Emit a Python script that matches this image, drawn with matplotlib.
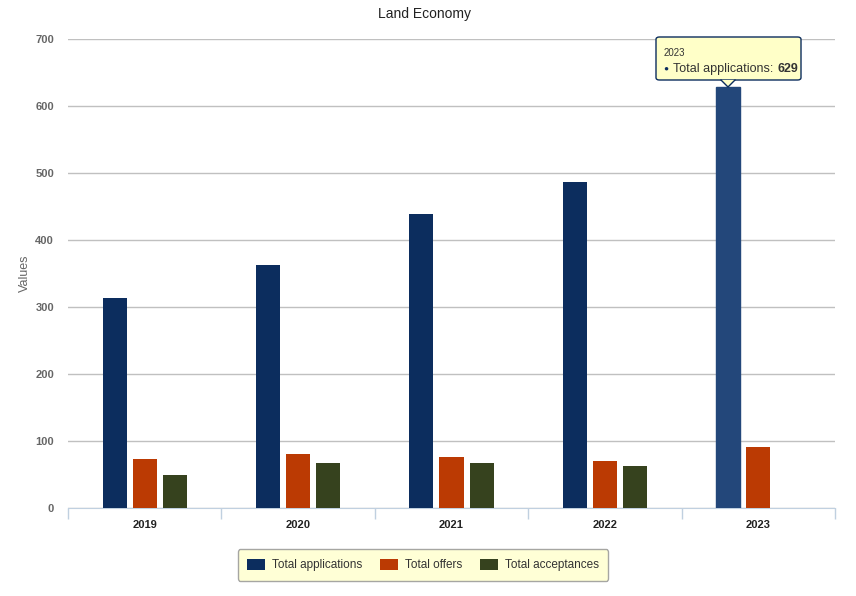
import matplotlib
matplotlib.use("Agg")
import matplotlib.pyplot as plt
import numpy as np
from matplotlib.patches import FancyBboxPatch, Polygon

plt.rcParams['font.family'] = ['Liberation Sans', 'DejaVu Sans']

years = ['2019', '2020', '2021', '2022', '2023']
series_names = ['Total applications', 'Total offers', 'Total acceptances']
applications = [313, 363, 439, 486, 629]
offers = [73, 81, 76, 70, 91]
acceptances = [49, 67, 67, 63, 0]
colors = ['#0c2d5e', '#bb3a03', '#36421e']
highlight = '#23477a'

fig = plt.figure(figsize=(8.56, 5.96), dpi=100)
ax = fig.add_axes([68/856, 88/596, (835-68)/856, (508-39)/596])

x = np.arange(len(years))
w = 0.157
off = 0.196
data = [applications, offers, acceptances]
for i, (vals, c) in enumerate(zip(data, colors)):
    bars = ax.bar(x + (i-1)*off, vals, width=w, color=c, label=series_names[i], zorder=3)
    if i == 0:
        bars[-1].set_color(highlight)

ax.set_xlim(-0.5, len(years)-0.5)
ax.set_ylim(0, 700)
ax.set_yticks(range(0, 701, 100))
ax.yaxis.grid(True, color='#c0c0c0', linewidth=1, zorder=0)
ax.tick_params(axis='y', length=0, pad=10, labelsize=8, labelcolor='#666666')
for t in ax.get_yticklabels():
    t.set_fontweight('bold')
ax.set_xticks(x)
ax.set_xticklabels(years, fontsize=8, fontweight='bold', color='#222222')
ax.tick_params(axis='x', which='major', length=0, pad=9)
ax.set_xticks(np.arange(-0.5, len(years), 1), minor=True)
ax.tick_params(axis='x', which='minor', length=8, color='#c0d0e0', width=1)
for s in ['top', 'right', 'left']:
    ax.spines[s].set_visible(False)
ax.spines['bottom'].set_color('#c0d0e0')
ax.set_ylabel('Values', fontsize=9, color='#666666', labelpad=3)
fig.text(424/856, 1-14/596, 'Land Economy', fontsize=10, color='#222222',
         ha='center', va='center')

leg = fig.legend(loc='center', bbox_to_anchor=(423/856, 1-565/596), ncol=3,
                 frameon=True, fontsize=8.5, handlelength=1.5, handleheight=1.1,
                 handletextpad=0.6, columnspacing=1.5, borderpad=0.8, fancybox=True)
leg.get_frame().set_facecolor('#ffffcc')
leg.get_frame().set_edgecolor('#909090')
leg.get_frame().set_linewidth(1)
for t in leg.get_texts():
    t.set_color('#333333')

# tooltip
def fx(px): return px/856
def fy(py): return 1-py/596
box = FancyBboxPatch((fx(656), fy(80)), fx(801)-fx(656), fy(37)-fy(80),
                     boxstyle='round,pad=0,rounding_size=0.004',
                     transform=fig.transFigure, facecolor='#ffffc8',
                     edgecolor='#0c2d5e', linewidth=1, zorder=10)
fig.patches.append(box)
tri = Polygon([(fx(721), fy(80)), (fx(735), fy(80)), (fx(728), fy(87))],
              closed=True, transform=fig.transFigure, facecolor='#ffffc8',
              edgecolor='none', zorder=11)
fig.patches.append(tri)
fig.lines.append(plt.Line2D([fx(721), fx(728), fx(735)], [fy(80), fy(87), fy(80)],
                            transform=fig.transFigure, color='#0c2d5e', linewidth=1, zorder=12))
fig.text(fx(664), fy(53), years[-1], fontsize=7, color='#333333', va='center', zorder=20)
fig.text(fx(663), fy(69.5), '\u25cf', fontsize=6, color=colors[0], va='center', zorder=20)
t1 = fig.text(fx(673), fy(69), 'Total applications:', fontsize=9, color='#333333',
              va='center', zorder=20)
fig.canvas.draw()
bb = t1.get_window_extent(renderer=fig.canvas.get_renderer())
fig.text((bb.x1 + 4) / fig.bbox.width, fy(69), str(applications[-1]), fontsize=9,
         color='#333333', va='center', fontweight='bold', zorder=20)

fig.savefig('out.png', dpi=100)
